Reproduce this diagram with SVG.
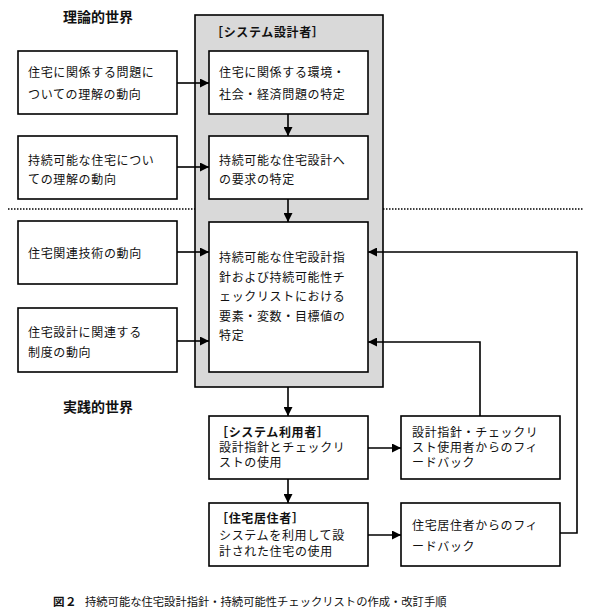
<svg xmlns="http://www.w3.org/2000/svg" width="590" height="614" viewBox="0 0 590 614">
<style>
text{font-family:"Noto Sans CJK JP","Noto Sans CJK SC",sans-serif;font-size:12px;letter-spacing:0.65px;fill:#111}
.b{font-weight:bold}
.h{font-size:14px;font-weight:bold;letter-spacing:0}
.box{fill:#fff;stroke:#000;stroke-width:1.6}
.c{fill:none;stroke:#000;stroke-width:1.6}
</style>
<defs>
<marker id="ah" viewBox="0 0 10 10" refX="10" refY="5" markerWidth="9" markerHeight="9" markerUnits="userSpaceOnUse" orient="auto"><path d="M0,0L10,5L0,10z" fill="#000"/></marker>
</defs>
<rect width="590" height="614" fill="#fff"/>
<text class="h" x="63" y="22">理論的世界</text>
<text class="h" x="63" y="412">実践的世界</text>
<line x1="8" y1="209" x2="583" y2="209" stroke="#000" stroke-width="1.5" stroke-dasharray="1.5 1.5"/>
<g id="designer">
<rect x="195" y="15" width="188" height="372" fill="#d9d9d9" stroke="#000" stroke-width="1.6"/>
<text class="b" x="211" y="37">［システム設計者］</text>
</g>
<g id="left1"><rect class="box" x="18" y="51" width="159" height="63"/><text x="28" y="77">住宅に関係する問題に</text><text x="28" y="99">ついての理解の動向</text></g>
<g id="left2"><rect class="box" x="18" y="136" width="159" height="63"/><text x="28" y="165">持続可能な住宅につい</text><text x="28" y="184">ての理解の動向</text></g>
<g id="left3"><rect class="box" x="18" y="221" width="159" height="63"/><text x="28" y="258">住宅関連技術の動向</text></g>
<g id="left4"><rect class="box" x="18" y="308" width="159" height="64"/><text x="28" y="337">住宅設計に関連する</text><text x="28" y="357">制度の動向</text></g>
<g id="inner1"><rect class="box" x="209" y="51" width="159" height="63"/><text x="219" y="77">住宅に関係する環境・</text><text x="219" y="99">社会・経済問題の特定</text></g>
<g id="inner2"><rect class="box" x="209" y="136" width="159" height="63"/><text x="219" y="165">持続可能な住宅設計へ</text><text x="219" y="184">の要求の特定</text></g>
<g id="inner3"><rect class="box" x="209" y="222" width="159" height="150"/>
<text x="219" y="262">持続可能な住宅設計指</text><text x="219" y="282">針および持続可能性チ</text><text x="219" y="301">ェックリストにおける</text><text x="219" y="321">要素・変数・目標値の</text><text x="219" y="340">特定</text></g>
<g id="userA"><rect class="box" x="209" y="416" width="159" height="63"/><text class="b" x="216" y="437">［システム利用者］</text><text x="219" y="452">設計指針とチェックリ</text><text x="219" y="467">ストの使用</text></g>
<g id="fbB"><rect class="box" x="401" y="416" width="159" height="63"/><text x="412" y="437">設計指針・チェックリ</text><text x="412" y="452">スト使用者からのフィ</text><text x="412" y="467">ードバック</text></g>
<g id="residentC"><rect class="box" x="209" y="503" width="159" height="63"/><text class="b" x="216" y="523">［住宅居住者］</text><text x="219" y="540">システムを利用して設</text><text x="219" y="556">計された住宅の使用</text></g>
<g id="fbD"><rect class="box" x="401" y="503" width="159" height="63"/><text x="412" y="530">住宅居住者からのフィ</text><text x="412" y="551">ードバック</text></g>
<g id="connectors" class="c">
<line class="c" x1="177" y1="83" x2="209" y2="83" marker-end="url(#ah)"/>
<line class="c" x1="177" y1="167" x2="209" y2="167" marker-end="url(#ah)"/>
<line class="c" x1="177" y1="252" x2="209" y2="252" marker-end="url(#ah)"/>
<line class="c" x1="177" y1="341" x2="209" y2="341" marker-end="url(#ah)"/>
<line class="c" x1="288" y1="114" x2="288" y2="136" marker-end="url(#ah)"/>
<line class="c" x1="288" y1="199" x2="288" y2="222" marker-end="url(#ah)"/>
<line class="c" x1="288" y1="387" x2="288" y2="416" marker-end="url(#ah)"/>
<line class="c" x1="288" y1="479" x2="288" y2="503" marker-end="url(#ah)"/>
<line class="c" x1="368" y1="448" x2="401" y2="448" marker-end="url(#ah)"/>
<line class="c" x1="368" y1="535" x2="401" y2="535" marker-end="url(#ah)"/>
<polyline class="c" points="480,416 480,342 368,342" marker-end="url(#ah)"/>
<polyline class="c" points="560,533 577,533 577,252 368,252" marker-end="url(#ah)"/>
</g>
<text class="b" x="53" y="606" style="font-size:11.5px;letter-spacing:0.5px">図２</text>
<text x="85" y="606" style="font-size:11.3px;letter-spacing:0">持続可能な住宅設計指針・持続可能性チェックリストの作成・改訂手順</text>
</svg>
